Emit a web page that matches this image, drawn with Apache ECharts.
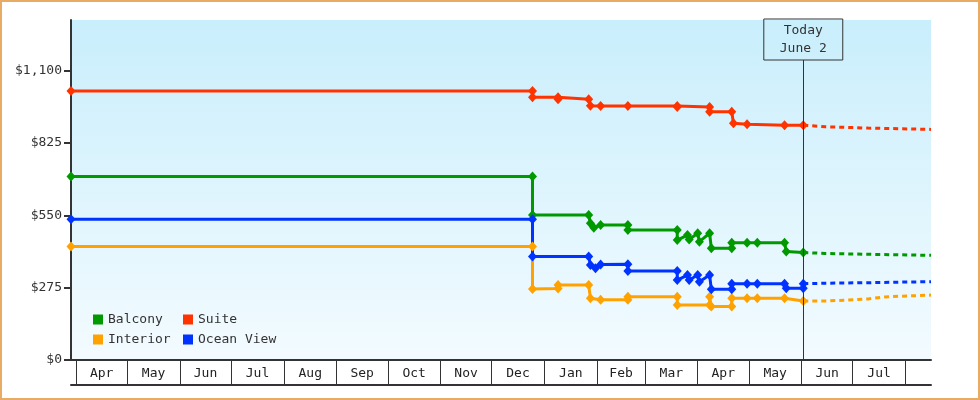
<!DOCTYPE html>
<html>
<head>
<meta charset="utf-8">
<script src="https://cdn.jsdelivr.net/npm/echarts@6/dist/echarts.min.js"></script>
<style>
html,body{margin:0;padding:0;background:#fff;}
#chart{width:980px;height:400px;}
</style>
</head>
<body>
<div id="chart"></div>
<script>
// ---- data ----
const today = '2025-06-02';
const todayLabel = ['Today', 'June 2'];
const seriesNames = ['Balcony', 'Suite', 'Interior', 'Ocean View'];

const balcony = [
  ['2024-03-29', 698], ['2024-12-25', 698], ['2024-12-25', 551], ['2025-01-27', 551],
  ['2025-01-28', 520], ['2025-01-30', 503], ['2025-02-03', 513], ['2025-02-19', 513],
  ['2025-02-19', 494], ['2025-03-20', 494], ['2025-03-20', 456], ['2025-03-26', 475],
  ['2025-03-27', 458], ['2025-04-01', 482], ['2025-04-02', 450], ['2025-04-08', 482],
  ['2025-04-09', 425], ['2025-04-21', 425], ['2025-04-21', 446], ['2025-04-30', 446],
  ['2025-05-06', 446], ['2025-05-22', 446], ['2025-05-23', 413], ['2025-06-02', 409]
];
const suite = [
  ['2024-03-29', 1023], ['2024-12-25', 1023], ['2024-12-25', 999], ['2025-01-09', 999],
  ['2025-01-09', 992], ['2025-01-27', 992], ['2025-01-28', 967], ['2025-02-03', 966],
  ['2025-02-19', 966], ['2025-03-20', 966], ['2025-03-20', 962], ['2025-04-08', 962],
  ['2025-04-08', 944], ['2025-04-21', 944], ['2025-04-22', 900], ['2025-04-30', 897],
  ['2025-05-22', 893], ['2025-06-02', 893]
];
const interior = [
  ['2024-03-29', 432], ['2024-12-25', 432], ['2024-12-25', 270], ['2025-01-09', 272],
  ['2025-01-09', 285], ['2025-01-27', 285], ['2025-01-28', 235], ['2025-02-03', 229],
  ['2025-02-19', 229], ['2025-02-19', 241], ['2025-03-20', 241], ['2025-03-20', 209],
  ['2025-04-08', 209], ['2025-04-08', 241], ['2025-04-09', 203], ['2025-04-21', 203],
  ['2025-04-21', 235], ['2025-04-30', 235], ['2025-05-06', 235], ['2025-05-22', 235],
  ['2025-06-02', 224]
];
const oceanView = [
  ['2024-03-29', 535], ['2024-12-25', 535], ['2024-12-25', 394], ['2025-01-27', 394],
  ['2025-01-28', 361], ['2025-01-31', 349], ['2025-02-03', 363], ['2025-02-19', 364],
  ['2025-02-19', 338], ['2025-03-20', 338], ['2025-03-20', 304], ['2025-03-26', 323],
  ['2025-03-27', 304], ['2025-04-01', 323], ['2025-04-02', 298], ['2025-04-08', 323],
  ['2025-04-09', 269], ['2025-04-21', 269], ['2025-04-21', 290], ['2025-04-30', 290],
  ['2025-05-06', 290], ['2025-05-22', 290], ['2025-05-23', 273], ['2025-06-02', 273],
  ['2025-06-02', 290]
];

const balconyForecast = [['2025-06-02', 409], ['2025-06-15', 405], ['2025-07-10', 402], ['2025-08-16', 398]];
const suiteForecast = [['2025-06-02', 893], ['2025-06-15', 887], ['2025-07-10', 882], ['2025-08-16', 877]];
const interiorForecast = [['2025-06-02', 224], ['2025-06-15', 224], ['2025-07-10', 232], ['2025-07-20', 240], ['2025-08-16', 247]];
const oceanForecast = [['2025-06-02', 290], ['2025-06-15', 292], ['2025-07-10', 294], ['2025-08-16', 298]];

const yTicks = [0, 275, 550, 825, 1100];
const monthStarts = ['2024-04-01','2024-05-01','2024-06-01','2024-07-01','2024-08-01','2024-09-01',
  '2024-10-01','2024-11-01','2024-12-01','2025-01-01','2025-02-01','2025-03-01','2025-04-01',
  '2025-05-01','2025-06-01','2025-07-01','2025-08-01'];
const monthNames = ['Apr','May','Jun','Jul','Aug','Sep','Oct','Nov','Dec','Jan','Feb','Mar','Apr','May','Jun','Jul'];

const xMin = '2024-03-29';
const xMax = '2025-08-16';
const yMax = 1293;

// ---- chart ----
const t = s => +new Date(s + 'T00:00:00');
const toTs = arr => arr.map(p => [t(p[0]), p[1]]);
const colors = { 'Balcony': '#009900', 'Suite': '#ff3300', 'Interior': '#ffa200', 'Ocean View': '#0033ff' };
const FONT = '"DejaVu Sans Mono", "Liberation Mono", monospace';

const tickVals = monthStarts.map(t);
const labelVals = [];
for (let i = 0; i < monthNames.length; i++) labelVals.push((tickVals[i] + tickVals[i + 1]) / 2);

function solid(name, data, extra) {
  return Object.assign({
    name, type: 'line', data: toTs(data),
    symbol: 'diamond', symbolSize: [9, 10], showAllSymbol: true,
    lineStyle: { width: 3, color: colors[name] },
    itemStyle: { color: colors[name] },
    z: 3, silent: true
  }, extra || {});
}
function dashed(name, data) {
  return {
    name, type: 'line', data: toTs(data), symbol: 'none',
    lineStyle: { width: 3, color: colors[name], type: [5, 4] },
    itemStyle: { color: colors[name] }, z: 3, silent: true
  };
}

const chart = echarts.init(document.getElementById('chart'), null, { renderer: 'canvas' });

const legendPos = [[93, 313], [183, 313], [93, 333], [183, 333]];
const legends = seriesNames.map((n, i) => ({
  data: [n], left: legendPos[i][0], top: legendPos[i][1], padding: 0,
  icon: 'rect', itemWidth: 10, itemHeight: 10, selectedMode: false,
  textStyle: { fontFamily: FONT, fontSize: 13, color: '#333' }
}));

const option = {
  animation: false,
  backgroundColor: '#fff',
  textStyle: { fontFamily: FONT },
  grid: {
    left: 71, right: 49, top: 20, bottom: 40, show: true, borderWidth: 0,
    backgroundColor: new echarts.graphic.LinearGradient(0, 0, 0, 1, [
      { offset: 0, color: '#c9eefc' }, { offset: 1, color: '#f3fbff' }
    ])
  },
  legend: legends,
  xAxis: [{
    type: 'value', min: t(xMin), max: t(xMax),
    axisLine: { show: true, lineStyle: { color: '#333', width: 2 } },
    axisTick: { show: true, customValues: tickVals, length: 25, inside: false, lineStyle: { color: '#333', width: 1 } },
    axisLabel: {
      customValues: labelVals, margin: 7, fontFamily: FONT, fontSize: 13, color: '#222',
      formatter: v => { const i = labelVals.indexOf(v); return i >= 0 ? monthNames[i] : ''; }
    },
    splitLine: { show: false }
  }, {
    type: 'value', min: t(xMin), max: t(xMax), position: 'bottom', offset: 25,
    axisLine: { show: true, lineStyle: { color: '#333', width: 2 } },
    axisTick: { show: false }, axisLabel: { show: false }, splitLine: { show: false }
  }],
  yAxis: {
    type: 'value', min: 0, max: yMax,
    axisLine: { show: true, lineStyle: { color: '#333', width: 2 } },
    axisTick: { show: true, customValues: yTicks, length: 7, lineStyle: { color: '#333', width: 2 } },
    axisLabel: {
      customValues: yTicks, margin: 9, fontFamily: FONT, fontSize: 13, color: '#333',
      formatter: v => '$' + v.toLocaleString('en-US')
    },
    splitLine: { show: false }
  },
  graphic: [{
    type: 'rect', shape: { x: 1, y: 1, width: 978, height: 398 },
    style: { fill: 'none', stroke: '#e9aa66', lineWidth: 2 }, silent: true, z: 100
  }],
  series: [
    solid('Balcony', balcony, {
      markLine: {
        silent: true, symbol: 'none', animation: false,
        lineStyle: { color: '#333', width: 1, type: 'solid' },
        label: {
          show: true, position: 'end', distance: 0,
          formatter: todayLabel.join('\n'),
          fontFamily: FONT, fontSize: 13, color: '#333', lineHeight: 18,
          borderColor: '#333', borderWidth: 1, padding: [3, 16, 2, 16]
        },
        data: [[{ coord: [t(today), 0] }, { coord: [t(today), yMax * 300 / 340] }]]
      }
    }),
    solid('Suite', suite),
    solid('Interior', interior),
    solid('Ocean View', oceanView),
    dashed('Balcony', balconyForecast),
    dashed('Suite', suiteForecast),
    dashed('Interior', interiorForecast),
    dashed('Ocean View', oceanForecast)
  ]
};
chart.setOption(option);
</script>
</body>
</html>
